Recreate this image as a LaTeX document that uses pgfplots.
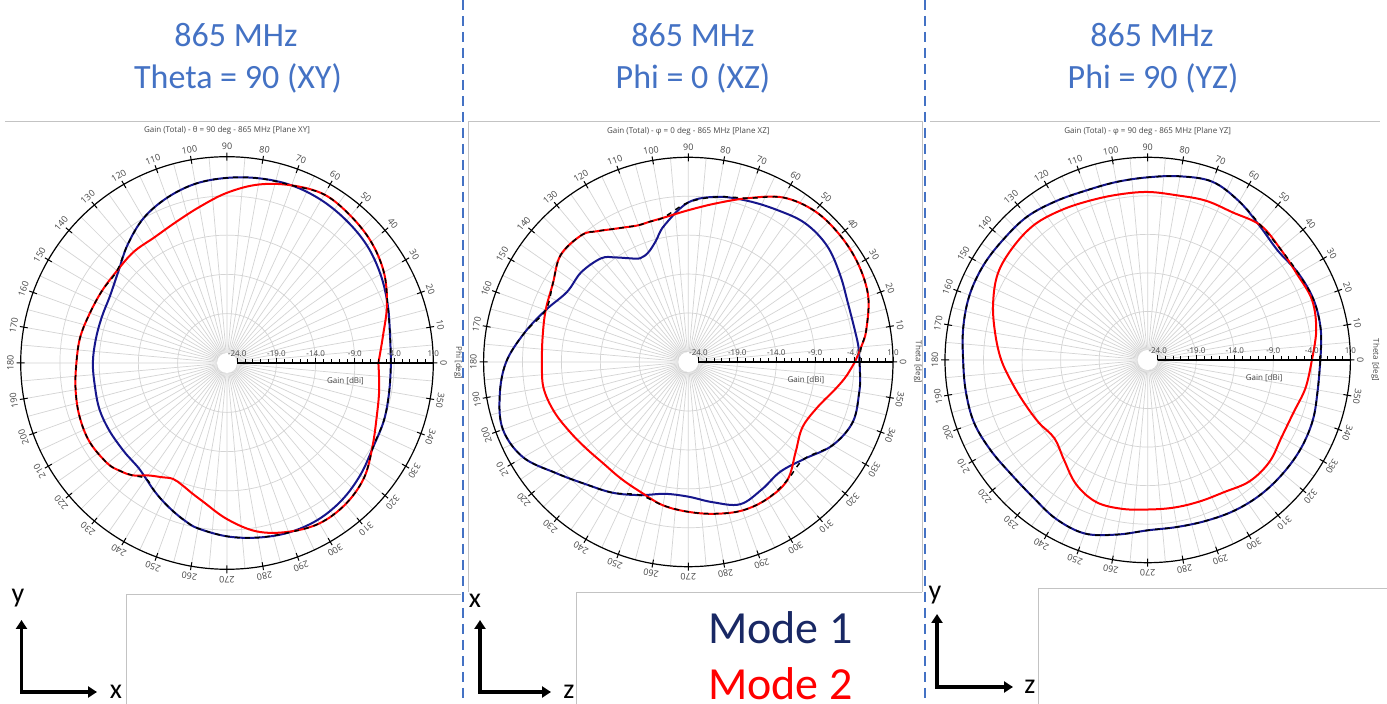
\documentclass[border=0pt]{standalone}
\usepackage{fontspec}
\setmainfont{Carlito}
\newfontfamily\osans{Open Sans}
\usepackage{pgfplots}
\usepgfplotslibrary{polar}
\usepackage{pgfplotstable}
\pgfplotsset{compat=1.18}
\usetikzlibrary{arrows.meta}

\definecolor{titleblue}{RGB}{68,114,196}
\definecolor{modeone}{RGB}{22,22,140}
\definecolor{modeonetext}{RGB}{25,40,100}
\definecolor{modetwo}{RGB}{255,0,0}
\definecolor{labgray}{RGB}{70,70,70}
\definecolor{gridgray}{RGB}{212,212,212}
\definecolor{framegray}{RGB}{195,195,195}

% angle [deg], Mode 1 gain [dBi], Mode 2 gain [dBi], envelope [dBi]
\pgfplotstableread{
a m1 m2 env
0 -4.4 -6.0 -4.4
10 -4.2 -5.1 -4.2
20 -3.5 -3.6 -3.5
30 -2.7 -2.2 -2.2
40 -2.0 -1.3 -1.3
50 -1.6 -0.8 -0.8
60 -1.3 -0.5 -0.5
70 -1.2 -1.2 -1.2
80 -1.4 -2.2 -1.4
90 -1.7 -3.6 -1.7
100 -2.1 -5.1 -2.1
110 -2.9 -6.2 -2.9
120 -4.0 -6.8 -4.0
130 -5.6 -6.8 -5.6
140 -7.2 -7.0 -7.0
150 -8.1 -6.9 -6.9
160 -8.3 -6.7 -6.7
170 -8.3 -6.3 -6.3
180 -8.2 -6.1 -6.1
190 -8.2 -5.7 -5.7
200 -8.0 -5.3 -5.3
210 -8.0 -5.1 -5.1
220 -8.0 -5.4 -5.4
225 -7.95 -5.9 -5.9
230 -7.8 -6.6 -6.6
235 -7.3 -7.8 -7.3
240 -6.6 -8.5 -6.6
245 -5.9 -9.0 -5.9
250 -5.2 -8.7 -5.2
255 -4.5 -8.1 -4.5
260 -3.9 -7.4 -3.9
270 -3.2 -5.4 -3.2
280 -2.7 -3.5 -2.7
290 -2.3 -2.4 -2.3
300 -2.2 -1.7 -1.7
310 -2.5 -1.8 -1.8
320 -3.1 -2.5 -2.5
330 -3.8 -3.9 -3.8
340 -4.0 -5.0 -4.0
350 -4.3 -5.6 -4.3
360 -4.4 -6.0 -4.4
}\dataXY

\pgfplotstableread{
a m1 m2 env
0 -3.3 -3.9 -3.3
5 -3.35 -3.0 -3.0
10 -3.5 -2.1 -2.1
20 -3.45 -0.7 -0.7
30 -2.8 -0.1 -0.1
40 -2.05 0.1 0.1
50 -2.0 0.0 0.0
60 -2.7 -0.9 -0.9
70 -3.25 -2.9 -2.9
80 -3.75 -4.6 -3.75
90 -4.8 -5.8 -4.8
100 -7.5 -6.5 -6.5
105 -9.2 -6.6 -6.6
110 -10.3 -6.6 -6.6
115 -10.6 -6.2 -6.2
120 -9.9 -5.6 -5.6
125 -8.9 -4.8 -4.8
130 -7.9 -4.0 -4.0
140 -7.35 -3.9 -3.9
150 -7.3 -5.2 -5.2
160 -5.8 -5.8 -5.8
170 -3.9 -6.3 -3.9
180 -1.9 -6.5 -1.9
190 -0.7 -6.4 -0.7
200 0.05 -6.9 0.05
210 -0.8 -7.6 -0.8
220 -3.1 -8.1 -3.1
230 -4.8 -8.3 -4.8
240 -5.9 -8.0 -5.9
250 -7.1 -7.5 -7.1
260 -8.1 -6.6 -6.6
270 -8.0 -6.05 -6.05
280 -7.0 -5.5 -5.5
290 -5.85 -5.0 -5.0
300 -6.4 -5.0 -5.0
310 -6.9 -5.5 -5.5
320 -5.9 -7.3 -5.9
330 -3.9 -8.4 -3.9
340 -2.8 -7.8 -2.8
350 -3.0 -6.0 -3.0
355 -3.15 -4.9 -3.15
360 -3.3 -3.9 -3.3
}\dataXZ

\pgfplotstableread{
a m1 m2 env
0 -2.9 -4.0 -2.9
10 -2.5 -3.1 -2.5
20 -2.4 -2.6 -2.4
30 -2.75 -2.95 -2.75
40 -3.25 -2.85 -2.85
50 -2.65 -2.5 -2.5
60 -1.55 -3.2 -1.55
70 -0.7 -3.3 -0.7
80 -1.1 -3.6 -1.1
90 -1.6 -3.5 -1.6
100 -1.85 -3.5 -1.85
110 -1.9 -3.3 -1.9
120 -1.5 -2.85 -1.5
130 -1.0 -2.4 -1.0
140 -0.9 -2.5 -0.9
150 -0.7 -2.85 -0.7
160 -0.7 -3.95 -0.7
170 -1.0 -5.2 -1.0
180 -1.35 -6.3 -1.35
190 -1.35 -7.5 -1.35
200 -1.35 -8.4 -1.35
210 -1.8 -9.0 -1.8
220 -2.2 -9.5 -2.2
230 -2.1 -8.4 -2.1
240 -1.5 -6.7 -1.5
250 -1.35 -5.7 -1.35
260 -2.3 -5.7 -2.3
270 -3.2 -5.9 -3.2
280 -3.3 -5.85 -3.3
290 -3.1 -5.75 -3.1
300 -2.75 -5.5 -2.75
310 -2.5 -4.75 -2.5
320 -2.4 -4.7 -2.4
330 -2.35 -5.25 -2.35
340 -2.5 -5.2 -2.5
350 -2.9 -4.5 -2.9
360 -2.9 -4.0 -2.9
}\dataYZ

\pgfplotsset{
  mypolar/.style={
    scale only axis,
    xmin=0, xmax=360, ymin=0, ymax=26.3,
    xtick={0,10,...,350}, xticklabels={},
    minor xtick={5,15,...,355},
    ytick={6.3,11.3,16.3,21.3}, yticklabels={},
    grid=both,
    major grid style={gridgray, line width=0.7pt},
    minor grid style={gridgray, line width=0.7pt},
    axis line style={black, line width=1.2pt},
    major x tick style={black, line width=1pt},
    minor x tick style={draw=none},
    major y tick style={draw=none},
    tick align=center,
    major tick length=8pt,
    clip=false,
  },
  m1line/.style={modeone, line width=2pt, smooth, tension=0.6},
  m2line/.style={modetwo, line width=2pt, smooth, tension=0.6},
  envline/.style={black, line width=1.5pt, smooth, tension=0.6, dash pattern=on 5pt off 5pt},
}

\newcommand\polarhole{\fill[white] (axis cs:0,0) circle[radius=10pt];}
\newcommand\polardeco[2]{%
  \draw[line width=2.6pt] (axis cs:0,1.3) -- (axis cs:0,26.3);
  \pgfplotsinvokeforeach{2.3,3.3,...,25.4}{\draw[line width=0.8pt] (axis cs:0,##1) -- ++(0,3.5pt);}
  \pgfplotsinvokeforeach{1.3,6.3,11.3,16.3,21.3,26.3}{\draw[line width=0.9pt] (axis cs:0,##1) -- ++(0,5pt);}
  \node[font=\osans\fontsize{8}{9}\selectfont, text=labgray, anchor=south, inner sep=0pt] at ([yshift=6pt]axis cs:0,1.3) {-24.0};
  \node[font=\osans\fontsize{8}{9}\selectfont, text=labgray, anchor=south, inner sep=0pt] at ([yshift=6pt]axis cs:0,6.3) {-19.0};
  \node[font=\osans\fontsize{8}{9}\selectfont, text=labgray, anchor=south, inner sep=0pt] at ([yshift=6pt]axis cs:0,11.3) {-14.0};
  \node[font=\osans\fontsize{8}{9}\selectfont, text=labgray, anchor=south, inner sep=0pt] at ([yshift=6pt]axis cs:0,16.3) {-9.0};
  \node[font=\osans\fontsize{8}{9}\selectfont, text=labgray, anchor=south, inner sep=0pt] at ([yshift=6pt]axis cs:0,21.3) {-4.0};
  \node[font=\osans\fontsize{8}{9}\selectfont, text=labgray, anchor=south, inner sep=0pt] at ([yshift=6pt]axis cs:0,26.3) {1.0};
  \node[font=\osans\fontsize{8}{9}\selectfont, text=labgray, inner sep=0pt] at ([yshift=-18pt]axis cs:0,15.1) {Gain [dBi]};
  \pgfplotsinvokeforeach{0,10,...,350}{\node[font=\osans\fontsize{9}{10}\selectfont, text=labgray, inner sep=0pt, rotate=##1-90] at (axis cs:##1,27.6) {##1};}
  \node[font=\osans\fontsize{8}{9}\selectfont, text=labgray, inner sep=0pt] at ([yshift=26pt]axis cs:90,26.3) {#1};
  \node[font=\osans\fontsize{8}{9}\selectfont, text=labgray, inner sep=0pt, rotate=-90] at ([xshift=25pt]axis cs:0,26.3) {#2};
}

\begin{document}
\begin{tikzpicture}[x=1pt,y=1pt]
\useasboundingbox (0,0) rectangle (1387,704);
\fill[white] (0,0) rectangle (1387,704);

% screenshot frames
\begin{scope}[framegray, line width=0.8pt]
\draw (5,583) -- (461,583);
\draw (126,0) -- (126,110) -- (461,110);
\draw (468,112) -- (468,583) -- (922,583) -- (922,112);
\draw (576,0) -- (576,112) -- (922,112);
\draw (930,583) -- (1380,583);
\draw (1038,0) -- (1038,116) -- (1387,116);
\end{scope}

% separators
\draw[titleblue, line width=2.5pt, dash pattern=on 10pt off 6pt] (463,704) -- (463,0);
\draw[titleblue, line width=2.5pt, dash pattern=on 10pt off 6pt] (925,704) -- (925,0);

% titles
\begin{scope}[every node/.style={anchor=base, inner sep=0pt, text=titleblue, font=\fontsize{34}{40}\selectfont}]
\node at (236,657.3) {865 MHz};
\node at (238,615.7) {Theta = 90 (XY)};
\node at (693,657.3) {865 MHz};
\node at (693,615.7) {Phi = 0 (XZ)};
\node at (1152,657.3) {865 MHz};
\node at (1153,615.7) {Phi = 90 (YZ)};
\end{scope}

% panel 1
\begin{polaraxis}[mypolar, at={(227pt,341pt)}, anchor=center, width=412.6pt, height=412.6pt]
\polarhole
\addplot[m1line] table[x=a, y expr=\thisrow{m1}+25.3] {\dataXY};
\addplot[m2line] table[x=a, y expr=\thisrow{m2}+25.3] {\dataXY};
\addplot[envline] table[x=a, y expr=\thisrow{env}+25.3] {\dataXY};
\polardeco{Gain (Total) - θ = 90 deg - 865 MHz [Plane XY]}{Phi [deg]}
\end{polaraxis}

% panel 2
\begin{polaraxis}[mypolar, at={(688.3pt,342pt)}, anchor=center, width=409.4pt, height=409.4pt]
\polarhole
\addplot[m1line] table[x=a, y expr=\thisrow{m1}+25.3] {\dataXZ};
\addplot[m2line] table[x=a, y expr=\thisrow{m2}+25.3] {\dataXZ};
\addplot[envline] table[x=a, y expr=\thisrow{env}+25.3] {\dataXZ};
\polardeco{Gain (Total) - φ = 0 deg - 865 MHz [Plane XZ]}{Theta [deg]}
\end{polaraxis}

% panel 3
\begin{polaraxis}[mypolar, at={(1147.7pt,344pt)}, anchor=center, width=405.4pt, height=405.4pt]
\polarhole
\addplot[m1line] table[x=a, y expr=\thisrow{m1}+25.3] {\dataYZ};
\addplot[m2line] table[x=a, y expr=\thisrow{m2}+25.3] {\dataYZ};
\addplot[envline] table[x=a, y expr=\thisrow{env}+25.3] {\dataYZ};
\polardeco{Gain (Total) - φ = 90 deg - 865 MHz [Plane YZ]}{Theta [deg]}
\end{polaraxis}

% coordinate triads
\begin{scope}[line width=3.5pt, line join=miter, arrows={Triangle[length=9pt,width=11pt]-Triangle[length=9pt,width=11pt]}]
\draw (21.5,84) -- (21.5,12) -- (97,12);
\draw (480,84) -- (480,12) -- (551,12);
\draw (937,90) -- (937,17) -- (1013,17);
\end{scope}
\begin{scope}[every node/.style={inner sep=0pt, font=\fontsize{28}{30}\selectfont}]
\node at (18,106) {y};
\node at (116,12) {x};
\node at (475,103) {x};
\node at (569,12) {z};
\node at (935,109) {y};
\node at (1030,17) {z};
\end{scope}

% mode legend
\node[anchor=base west, inner sep=0pt, text=modeonetext, font=\fontsize{46}{50}\selectfont] at (708,60) {Mode 1};
\node[anchor=base west, inner sep=0pt, text=modetwo, font=\fontsize{46}{50}\selectfont] at (708,4) {Mode 2};
\end{tikzpicture}
\end{document}
